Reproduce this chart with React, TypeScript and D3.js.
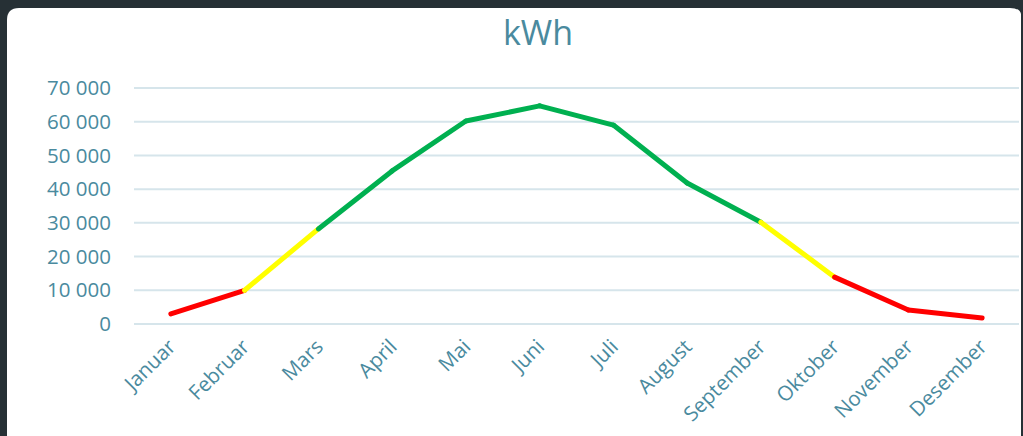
import React from "react";
import * as d3 from "d3";

const months = ["Januar","Februar","Mars","April","Mai","Juni","Juli","August","September","Oktober","November","Desember"];
const values = [3000, 10000, 28200, 45400, 60200, 64700, 59000, 41800, 30200, 13900, 4150, 1800];
const segmentColors = ["#FF0000","#FFFF00","#00B050","#00B050","#00B050","#00B050","#00B050","#00B050","#FFFF00","#FF0000","#FF0000"];
const yTicks = [0, 10000, 20000, 30000, 40000, 50000, 60000, 70000];
const title = "kWh";

const W = 1023, H = 436;
const textColor = "#4A8A9E";
const font = "'Open Sans', 'Noto Sans', sans-serif";

export default function App() {
  const x = d3.scaleBand<string>().domain(months).range([134, 1019]);
  const y = d3.scaleLinear().domain([0, 70000]).range([324, 88]);
  const fmt = (v: number) => d3.format(",")(v).replace(/,/g, " ");
  const cx = (m: string) => (x(m) as number) + x.bandwidth() / 2;
  const segs = values.slice(0, -1).map((v, i) => ({
    x1: cx(months[i]), y1: y(v), x2: cx(months[i + 1]), y2: y(values[i + 1]), c: segmentColors[i],
  }));
  return (
    <svg width={W} height={H} style={{ position: "absolute", left: 0, top: 0, display: "block" }}>
      <rect x={0} y={0} width={W} height={H} fill="#263035" />
      <path d={`M7,${H} L7,20 Q7,8 19,8 L1010,8 Q1020,8 1021,14 L1021,${H} Z`} fill="#ffffff" />
      <text x={538} y={45} textAnchor="middle" fontFamily={font} fontSize={34} fill={textColor}>{title}</text>
      {yTicks.map(t => (
        <g key={t}>
          <line x1={134} x2={1019} y1={y(t)} y2={y(t)} stroke="#D6E5EB" strokeWidth={2} />
          <text x={111} y={y(t)} dy="0.35em" textAnchor="end" fontFamily={font} fontSize={20.5} fill={textColor}>{fmt(t)}</text>
        </g>
      ))}
      {segs.map((s, i) => (
        <line key={i} x1={s.x1} y1={s.y1} x2={s.x2} y2={s.y2} stroke={s.c} strokeWidth={5} strokeLinecap="round" />
      ))}
      {months.map(m => (
        <text key={m} transform={`translate(${cx(m) + 6},${348}) rotate(-45)`} textAnchor="end" fontFamily={font} fontSize={20.5} fill={textColor}>{m}</text>
      ))}
    </svg>
  );
}
